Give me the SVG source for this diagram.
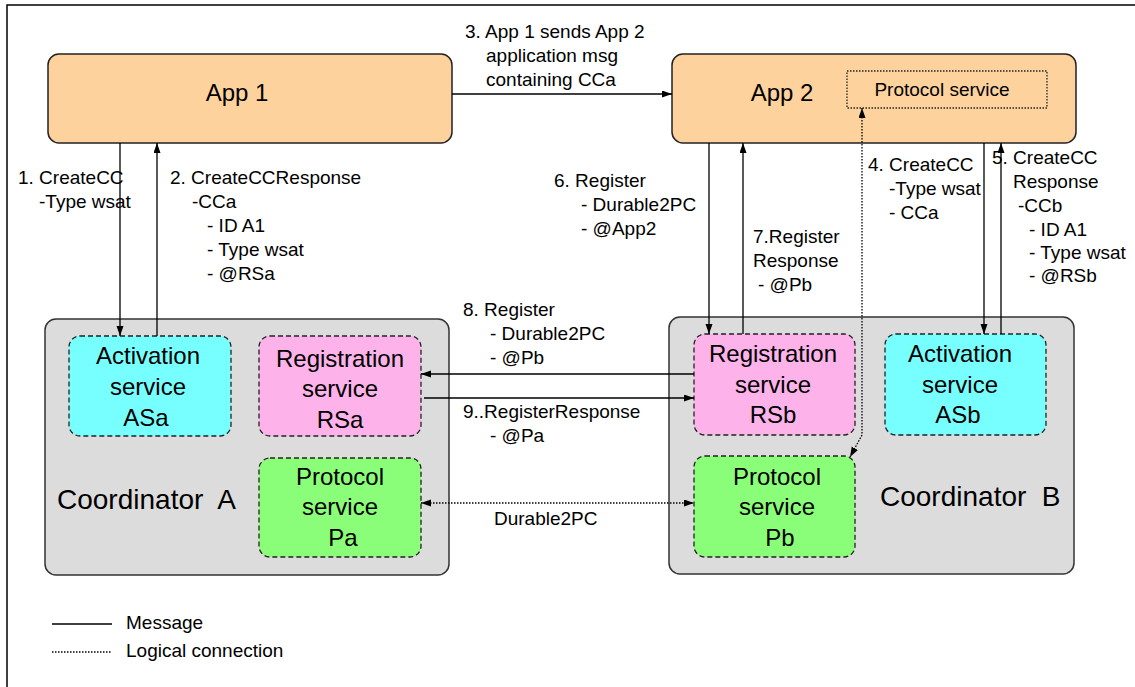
<svg xmlns="http://www.w3.org/2000/svg" width="1135" height="687" viewBox="0 0 1135 687">
<defs>
<marker id="ah" markerWidth="11" markerHeight="8" refX="10" refY="3.5" orient="auto-start-reverse" markerUnits="userSpaceOnUse">
<path d="M0,0 L10,3.5 L0,7 z" fill="#000"/>
</marker>
<style>
text{font-family:"Liberation Sans",Arial,sans-serif;fill:#000}
.lbl{font-size:19px}
.app{font-size:24px;text-anchor:middle}
.svc{font-size:24px;text-anchor:middle}
.coord{font-size:28px;white-space:pre}
.appbox{fill:#FDD29D;stroke:#222;stroke-width:1.5}
.coordbox{fill:#DCDCDC;stroke:#333;stroke-width:1.5}
.dash{stroke:#222;stroke-width:1.3;stroke-dasharray:5,3}
.act{fill:#77FFFF}
.reg{fill:#FDB3E9}
.prot{fill:#8AFE78}
.msg{fill:none;stroke:#000;stroke-width:1.3}
.log{fill:none;stroke:#000;stroke-width:1.3;stroke-dasharray:1.5,1.5}
</style>
</defs>
<rect width="1135" height="687" fill="#fff"/>
<path d="M7,687 L7,5 L1135,5" fill="none" stroke="#000" stroke-width="1.5"/>

<g id="app1">
<rect class="appbox" x="48" y="54" width="404" height="89" rx="11"/>
<text class="app" x="237" y="101">App 1</text>
</g>
<g id="app2">
<rect class="appbox" x="672" y="54" width="404" height="89" rx="11"/>
<text class="app" x="782" y="101">App 2</text>
<g id="app2-protocol-service">
<rect x="847" y="71" width="200" height="37" fill="none" stroke="#222" stroke-width="1.3" stroke-dasharray="1.5,1.5"/>
<text class="lbl" x="942" y="96" text-anchor="middle">Protocol service</text>
</g>
</g>

<g id="coordinatorA">
<rect class="coordbox" x="45" y="319" width="404" height="256" rx="11"/>
<text class="coord" x="57" y="509">Coordinator  A</text>
</g>
<g id="ASa">
<rect class="act dash" x="69" y="336" width="162" height="100" rx="11"/>
<text class="svc"><tspan x="148" y="364">Activation</tspan><tspan x="148" y="395">service</tspan><tspan x="146" y="426">ASa</tspan></text>
</g>
<g id="RSa">
<rect class="reg dash" x="259" y="336" width="162" height="100" rx="11"/>
<text class="svc"><tspan x="340" y="367">Registration</tspan><tspan x="340" y="397">service</tspan><tspan x="340" y="428">RSa</tspan></text>
</g>
<g id="Pa">
<rect class="prot dash" x="259" y="458" width="162" height="99" rx="11"/>
<text class="svc"><tspan x="340" y="485">Protocol</tspan><tspan x="340" y="515">service</tspan><tspan x="343" y="546">Pa</tspan></text>
</g>

<g id="coordinatorB">
<rect class="coordbox" x="669" y="317" width="405" height="257" rx="11"/>
<text class="coord" x="880" y="506">Coordinator  B</text>
</g>
<g id="RSb">
<rect class="reg dash" x="694" y="334" width="161" height="101" rx="11"/>
<text class="svc"><tspan x="773" y="362">Registration</tspan><tspan x="773" y="393">service</tspan><tspan x="773" y="423">RSb</tspan></text>
</g>
<g id="ASb">
<rect class="act dash" x="885" y="334" width="161" height="101" rx="11"/>
<text class="svc"><tspan x="960" y="362">Activation</tspan><tspan x="960" y="393">service</tspan><tspan x="958" y="423">ASb</tspan></text>
</g>
<g id="Pb">
<rect class="prot dash" x="694" y="456" width="161" height="101" rx="11"/>
<text class="svc"><tspan x="777" y="485">Protocol</tspan><tspan x="777" y="515">service</tspan><tspan x="780" y="546">Pb</tspan></text>
</g>

<g id="connectors">
<path class="msg" d="M120,143 L120,336" marker-end="url(#ah)"/>
<path class="msg" d="M157,336 L157,143" marker-end="url(#ah)"/>
<path class="msg" d="M452,94 L672,94" marker-end="url(#ah)"/>
<path class="msg" d="M709,143 L709,334" marker-end="url(#ah)"/>
<path class="msg" d="M743,334 L743,143" marker-end="url(#ah)"/>
<path class="msg" d="M984,143 L984,334" marker-end="url(#ah)"/>
<path class="msg" d="M1001,334 L1001,143" marker-end="url(#ah)"/>
<path class="log" d="M862,108 L862,435 L850,457" marker-start="url(#ah)" marker-end="url(#ah)"/>
<path class="msg" d="M694,374 L421,374" marker-end="url(#ah)"/>
<path class="msg" d="M424,398 L694,398" marker-end="url(#ah)"/>
<path class="log" d="M421,503 L694,503" marker-start="url(#ah)" marker-end="url(#ah)"/>
</g>

<g id="labels" class="lbl">
<text class="lbl"><tspan x="18" y="184">1. CreateCC</tspan><tspan x="39" y="208">-Type wsat</tspan></text>
<text class="lbl"><tspan x="170" y="184">2. CreateCCResponse</tspan><tspan x="192" y="208">-CCa</tspan><tspan x="207" y="232">- ID A1</tspan><tspan x="207" y="256">- Type wsat</tspan><tspan x="207" y="280">- @RSa</tspan></text>
<text class="lbl"><tspan x="465" y="38">3. App 1 sends App 2</tspan><tspan x="486" y="62">application msg</tspan><tspan x="486" y="86">containing CCa</tspan></text>
<text class="lbl"><tspan x="868" y="171">4. CreateCC</tspan><tspan x="889" y="195">-Type wsat</tspan><tspan x="889" y="219">- CCa</tspan></text>
<text class="lbl"><tspan x="992" y="164">5. CreateCC</tspan><tspan x="1013" y="188">Response</tspan><tspan x="1018" y="212">-CCb</tspan><tspan x="1029" y="236">- ID A1</tspan><tspan x="1029" y="259">- Type wsat</tspan><tspan x="1029" y="282">- @RSb</tspan></text>
<text class="lbl"><tspan x="554" y="187">6. Register</tspan><tspan x="581" y="211">- Durable2PC</tspan><tspan x="581" y="235">- @App2</tspan></text>
<text class="lbl"><tspan x="753" y="243">7.Register</tspan><tspan x="753" y="267">Response</tspan><tspan x="758" y="291">- @Pb</tspan></text>
<text class="lbl"><tspan x="463" y="316">8. Register</tspan><tspan x="490" y="340">- Durable2PC</tspan><tspan x="490" y="364">- @Pb</tspan></text>
<text class="lbl"><tspan x="463" y="418">9..RegisterResponse</tspan><tspan x="490" y="442">- @Pa</tspan></text>
<text class="lbl" x="494" y="525">Durable2PC</text>
</g>

<g id="legend">
<line x1="52" y1="624" x2="112" y2="624" stroke="#000" stroke-width="1.3"/>
<text class="lbl" x="126" y="629">Message</text>
<line x1="52" y1="652" x2="111" y2="652" stroke="#000" stroke-width="1.3" stroke-dasharray="1.5,1.5"/>
<text class="lbl" x="126" y="657">Logical connection</text>
</g>
</svg>
